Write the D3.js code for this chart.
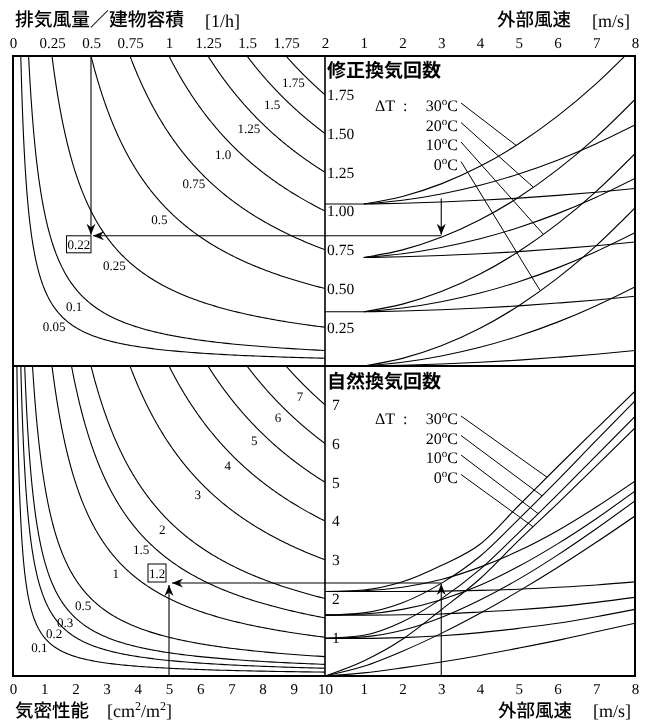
<!DOCTYPE html>
<html><head><meta charset="utf-8">
<script src="https://cdn.jsdelivr.net/npm/d3@7"></script>
<style>
body{margin:0;background:#fff;}
svg{will-change:transform;}
svg text{font-family:"Liberation Serif","Times New Roman",serif;fill:#000;text-rendering:geometricPrecision;}
svg text.jp{font-family:"Noto Sans CJK JP","Noto Sans CJK SC",sans-serif;}
</style></head><body>
<svg id="c" width="650" height="722"></svg>
<script>
// ---------------- data ----------------
const exhaustTicks = [0,0.25,0.5,0.75,1,1.25,1.5,1.75,2];
const exhaustTickLabels = ["0","0.25","0.5","0.75","1","1.25","1.5","1.75","2"];
const windTicks = [1,2,3,4,5,6,7,8];
const airtightTicks = [0,1,2,3,4,5,6,7,8,9,10];
const correctedTicks = [0.25,0.5,0.75,1.0,1.25,1.5,1.75];
const naturalTicks = [1,2,3,4,5,6,7];

const exhaustCurves = [0.05,0.1,0.25,0.5,0.75,1.0,1.25,1.5,1.75];
const exhaustCurveLabels = ["0.05","0.1","0.25","0.5","0.75","1.0","1.25","1.5","1.75"];
const airtightCurves = [0.1,0.2,0.3,0.5,1,1.5,2,3,4,5,6,7];
const airtightCurveLabels = ["0.1","0.2","0.3","0.5","1","1.5","2","3","4","5","6","7"];

const deltaT = ["30","20","10","0"];

// top-right: corrected air change rate, wind 1..8 m/s
const windTop = [1,2,3,4,5,6,7,8];
const corrSteep = [
  [1.045,1.094,1.175,1.288,1.434,1.612,1.822,2.065],
  [0.70,0.749,0.83,0.943,1.089,1.267,1.477,1.72],
  [0.35,0.399,0.48,0.593,0.739,0.917,1.127,1.37],
  [0.00,0.049,0.13,0.243,0.389,0.567,0.777,1.02]];
const corrMedium = [
  [1.045,1.069,1.11,1.166,1.239,1.328,1.434,1.555],
  [0.70,0.724,0.765,0.821,0.894,0.983,1.089,1.21],
  [0.35,0.374,0.415,0.471,0.544,0.633,0.739,0.86],
  [0.00,0.024,0.065,0.121,0.194,0.283,0.389,0.51]];
const corrFlat = [
  [1.045,1.05,1.058,1.069,1.083,1.101,1.121,1.145],
  [0.70,0.705,0.713,0.724,0.738,0.756,0.776,0.80],
  [0.35,0.355,0.363,0.374,0.388,0.406,0.426,0.45],
  [0.00,0.005,0.013,0.024,0.038,0.056,0.076,0.10]];

// bottom-right: natural air change rate, wind 0..8 m/s
const windBottom = [0,1,2,3,4,5,6,7,8];
const natSteep = [
  [2.18,2.22,2.43,2.85,3.40,4.40,5.40,6.38,7.35],
  [1.57,1.63,1.89,2.39,3.09,4.05,5.05,6.08,7.10],
  [0.97,1.05,1.40,1.99,2.75,3.70,4.68,5.69,6.70],
  [0.00,0.39,0.95,1.71,2.51,3.50,4.45,5.42,6.40]];
const natMedium = [
  [2.18,2.20,2.29,2.49,2.81,3.23,3.75,4.36,5.03],
  [1.57,1.60,1.72,1.97,2.34,2.83,3.41,4.06,4.77],
  [0.97,1.01,1.18,1.51,1.96,2.50,3.12,3.80,4.52],
  [0.00,0.25,0.64,1.10,1.62,2.19,2.80,3.45,4.13]];
const natFlat = [
  [2.18,2.18,2.18,2.19,2.21,2.24,2.29,2.35,2.43],
  [1.57,1.57,1.58,1.60,1.65,1.71,1.79,1.90,2.03],
  [0.97,0.97,0.99,1.04,1.12,1.23,1.36,1.53,1.72],
  [0.00,0.08,0.21,0.36,0.53,0.72,0.92,1.14,1.36]];

// worked example
const exampleExhaust = 0.5, exampleWind = 3, exampleCorrectedStart = 1.08, exampleCorrected = 0.84;
const exampleAirtight = 5, exampleNatural = 2.4;
const exampleTopResult = "0.22", exampleBottomResult = "1.2";

// ---------------- layout ----------------
const F = {l:13, r:635, t:56, m:366, b:676, d:325};
const leaderVTop = [4.93,5.37,5.63,5.55];
const leaderVBottom = [5.73,5.6,5.5,5.37];

const svg = d3.select("#c");
const xEx = d3.scaleLinear([0,2],[F.l,F.d]);
const yCorr = d3.scaleLinear([0,2],[F.m,F.t]);
const xWind = d3.scaleLinear([0,8],[F.d,F.r]);
const xAir = d3.scaleLinear([0,10],[F.l,F.d]);
const yNat = d3.scaleLinear([0,8],[F.b,F.m]);

const defs = svg.append("defs");
function clip(id,x0,y0,x1,y1){defs.append("clipPath").attr("id",id).append("rect").attr("x",x0).attr("y",y0).attr("width",x1-x0).attr("height",y1-y0);}
clip("cTL",F.l,F.t,F.d,F.m); clip("cTR",F.d,F.t,F.r,F.m);
clip("cBL",F.l,F.m,F.d,F.b); clip("cBR",F.d,F.m,F.r,F.b);

const stroke = "#000";
// hyperbola iso-lines (x*y = const)
function iso(k,xmin,xmax){return d3.range(0,241).map(i=>{const x=xmin*Math.pow(xmax/xmin,i/240);return [x,k/x];});}

function drawIso(values,labels,xs,ys,xMax,yMax,clipId,lineFn,slide){
  const g = svg.append("g").attr("clip-path",`url(#${clipId})`);
  const lg = svg.append("g");
  const line = d3.line().x(d=>xs(d[0])).y(d=>ys(d[1]));
  values.forEach((c,i)=>{
    const k = c*xMax;
    g.append("path").attr("d",line(iso(k,k/(yMax*1.03),xMax))).attr("fill","none").attr("stroke",stroke).attr("stroke-width",1.1);
    let best=null,bd=1e9;
    for(let X=xs(k/yMax); X<=xs(xMax); X+=0.25){
      const Y = ys(k/xs.invert(X)); const dd=Math.abs(Y-lineFn(X));
      if(dd<bd){bd=dd;best=[X,Y];}
    }
    lg.append("text").attr("x",best[0]+slide[0]).attr("y",best[1]+slide[1]).attr("dy","0.35em")
      .attr("text-anchor","middle").attr("font-size",13).text(labels[i]);
  });
}
drawIso(exhaustCurves,exhaustCurveLabels,xEx,yCorr,2,2,"cTL",X=>83+(293-X)*1.02,[-9,9]);
drawIso(airtightCurves,airtightCurveLabels,xAir,yNat,10,8,"cBL",X=>396+(300-X)*0.965,[-7.5,7.5]);

// right panels
const gTR = svg.append("g").attr("clip-path","url(#cTR)");
const gBR = svg.append("g").attr("clip-path","url(#cBR)");
const lineTop = d3.line().x((d,i)=>xWind(windTop[i])).y(d=>yCorr(d)).curve(d3.curveMonotoneX);
const lineBot = d3.line().x((d,i)=>xWind(windBottom[i])).y(d=>yNat(d)).curve(d3.curveMonotoneX);
[corrFlat,corrMedium,corrSteep].forEach(set=>set.forEach(s=>{
  gTR.append("path").attr("d",lineTop(s)).attr("fill","none").attr("stroke",stroke).attr("stroke-width",1.1);
}));
[natFlat,natMedium,natSteep].forEach(set=>set.forEach(s=>{
  gBR.append("path").attr("d",lineBot(s)).attr("fill","none").attr("stroke",stroke).attr("stroke-width",1.1);
}));
// lead-ins to the top fans
[0,2].forEach(i=>{
  svg.append("line").attr("x1",xWind(0)).attr("x2",xWind(windTop[0])).attr("y1",yCorr(corrFlat[i][0])).attr("y2",yCorr(corrFlat[i][0]))
    .attr("stroke",stroke).attr("stroke-width",1.1);
});

// frame
svg.append("rect").attr("x",F.l).attr("y",F.t).attr("width",F.r-F.l).attr("height",F.b-F.t).attr("fill","none").attr("stroke",stroke).attr("stroke-width",2);
svg.append("line").attr("x1",F.l).attr("x2",F.r).attr("y1",F.m).attr("y2",F.m).attr("stroke",stroke).attr("stroke-width",2);
svg.append("line").attr("x1",F.d).attr("x2",F.d).attr("y1",F.t).attr("y2",F.b).attr("stroke",stroke).attr("stroke-width",1.6);

// axes
function styleAxis(g,size){g.select(".domain").remove();g.selectAll("text").attr("font-family","Liberation Serif, serif").attr("font-size",size).attr("fill","#000");}
svg.append("g").attr("transform",`translate(0,${F.t})`).call(d3.axisTop(xEx).tickValues(exhaustTicks).tickFormat((d,i)=>exhaustTickLabels[i]).tickSize(0).tickPadding(8)).call(g=>styleAxis(g,15));
svg.append("g").attr("transform",`translate(0,${F.t})`).call(d3.axisTop(xWind).tickValues(windTicks).tickFormat(d3.format("d")).tickSize(0).tickPadding(8)).call(g=>styleAxis(g,15));
svg.append("g").attr("transform",`translate(0,${F.b})`).call(d3.axisBottom(xAir).tickValues(airtightTicks).tickFormat(d3.format("d")).tickSize(0).tickPadding(7)).call(g=>styleAxis(g,15));
svg.append("g").attr("transform",`translate(0,${F.b})`).call(d3.axisBottom(xWind).tickValues(windTicks).tickFormat(d3.format("d")).tickSize(0).tickPadding(7)).call(g=>styleAxis(g,15));
svg.append("g").attr("transform",`translate(${F.d},0)`).call(d3.axisRight(yCorr).tickValues(correctedTicks).tickFormat(d3.format(".2f")).tickSize(0).tickPadding(2)).call(g=>styleAxis(g,15.5));
svg.append("g").attr("transform",`translate(${F.d},0)`).call(d3.axisRight(yNat).tickValues(naturalTicks).tickFormat(d3.format("d")).tickSize(0).tickPadding(7)).call(g=>styleAxis(g,15.5));

// titles
function jp(x,y,t,size,weight){return svg.append("text").attr("class","jp").attr("x",x).attr("y",y).attr("font-size",size).attr("font-weight",weight||"normal").text(t);}
function serif(x,y,size){return svg.append("text").attr("x",x).attr("y",y).attr("font-size",size);}
jp(15,26,"排気風量／建物容積",18.8,"500");
serif(205,27,18).text("[1/h]");
jp(497,26,"外部風速",18.5,"500");
serif(592,27,18).text("[m/s]");
jp(15,717,"気密性能",18.5,"500");
const cm = serif(107,717,18);
cm.append("tspan").text("[cm");cm.append("tspan").attr("dy",-7).attr("font-size",12).text("2");
cm.append("tspan").attr("dy",7).text("/m");cm.append("tspan").attr("dy",-7).attr("font-size",12).text("2");
cm.append("tspan").attr("dy",7).text("]");
jp(498,717,"外部風速",18.5,"500");
serif(593,717,18).text("[m/s]");
jp(327,77,"修正換気回数",19,"bold");
jp(327,388,"自然換気回数",19,"bold");

// ΔT legends with leaders
function legend(baseY,ys,sets,xsV,leaderV,xs){
  serif(375,baseY,16).text("ΔT");
  serif(403,baseY,16).text(":");
  deltaT.forEach((t,i)=>{
    const y = baseY + i*19.5;
    const tx = serif(458,y,16).attr("text-anchor","end");
    tx.append("tspan").text(t);
    tx.append("tspan").attr("dy",-6).attr("font-size",11).text("o");
    tx.append("tspan").attr("dy",6).text("C");
    const v = leaderV[i];
    const val = d3.scaleLinear(xsV,sets[i])(v);
    svg.append("line").attr("x1",461).attr("y1",y-8).attr("x2",xs(v)).attr("y2",ys(val)).attr("stroke",stroke).attr("stroke-width",1);
  });
}
legend(111,yCorr,corrSteep,windTop,leaderVTop,xWind);
legend(424,yNat,natSteep,windBottom,leaderVBottom,xWind);

// arrows
function arrow(x1,y1,x2,y2){
  svg.append("line").attr("x1",x1).attr("y1",y1).attr("x2",x2).attr("y2",y2).attr("stroke",stroke).attr("stroke-width",1.1);
  const a = Math.atan2(y2-y1,x2-x1)*180/Math.PI;
  svg.append("path").attr("d","M0,0L-11,-4.5L-7.5,0L-11,4.5Z").attr("fill",stroke)
    .attr("transform",`translate(${x2},${y2}) rotate(${a})`);
}
const pxE = xEx(exampleExhaust), pyC = yCorr(exampleCorrected), pxW = xWind(exampleWind);
arrow(pxE,F.t,pxE,pyC-1);
arrow(pxW,pyC,pxE+2,pyC);
arrow(pxW,yCorr(exampleCorrectedStart),pxW,pyC-1);
const pxA = xAir(exampleAirtight), pyN = yNat(exampleNatural);
arrow(pxW,F.b,pxW,pyN+1);
arrow(pxW,pyN,pxA+3,pyN);
arrow(pxA,F.b,pxA,pyN+2);

// result boxes
svg.append("rect").attr("x",pxE-24.5).attr("y",pyC).attr("width",24.5).attr("height",17).attr("fill","none").attr("stroke",stroke).attr("stroke-width",1);
svg.append("text").attr("x",pxE-12.2).attr("y",pyC+8.5).attr("dy","0.35em").attr("text-anchor","middle").attr("font-size",13).text(exampleTopResult);
svg.append("rect").attr("x",pxA-21).attr("y",pyN-19).attr("width",18).attr("height",18).attr("fill","none").attr("stroke",stroke).attr("stroke-width",1);
svg.append("text").attr("x",pxA-12).attr("y",pyN-10).attr("dy","0.35em").attr("text-anchor","middle").attr("font-size",13).text(exampleBottomResult);
</script></body></html>
